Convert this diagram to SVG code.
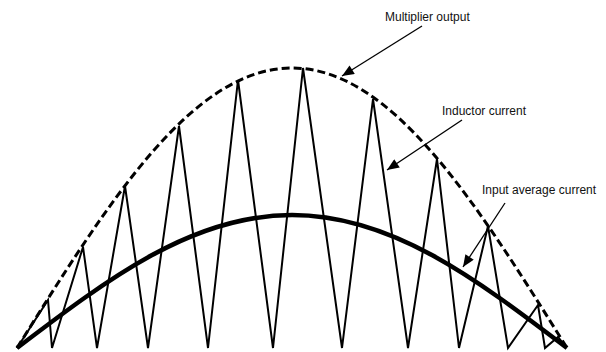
<svg xmlns="http://www.w3.org/2000/svg" width="606" height="352" viewBox="0 0 606 352">
<defs>
<style>
.lbl{font-family:"Liberation Sans",Arial,sans-serif;font-size:12px;fill:#111}
.wave{fill:none;stroke:#000;stroke-width:2;stroke-linejoin:miter}
.mult{fill:none;stroke:#000;stroke-width:3;stroke-dasharray:8,4}
.avg{fill:none;stroke:#000;stroke-width:4.5}
.ptr{fill:none;stroke:#000;stroke-width:1.3}
</style>
<marker id="ah" viewBox="0 0 12 10" refX="12" refY="5" markerWidth="13" markerHeight="10" markerUnits="userSpaceOnUse" orient="auto">
<path d="M0,0 L12,5 L0,10 Z" fill="#000"/>
</marker>
</defs>
<rect width="606" height="352" fill="#fff"/>
<g id="inductor-current">
<polyline class="wave" points="17,348 48,300 52,348 83,247 97,348 125,186 148,348 179,126 208,348 238,80 273,348 303,68 342,348 373,99 408,348 437,159 459,348 488,226 508,348 538,305 545,348 558,337 566,347"/>
</g>
<g id="multiplier-output">
<path class="mult" d="M17,348 C108.9,201 192.4,68 292,68 C391.6,68 475.1,201 567,348"/>
</g>
<g id="input-average-current">
<path class="avg" d="M17,348 C108.9,278.2 192.4,215 292,215 C391.6,215 475.1,278.2 567,348"/>
</g>
<g id="connectors">
<line class="ptr" x1="422" y1="26" x2="342" y2="76" marker-end="url(#ah)"/>
<line class="ptr" x1="462" y1="120" x2="387" y2="170" marker-end="url(#ah)"/>
<line class="ptr" x1="505" y1="203" x2="463" y2="267" marker-end="url(#ah)"/>
</g>
<g id="labels">
<text class="lbl" x="385" y="21">Multiplier output</text>
<text class="lbl" x="442" y="115">Inductor current</text>
<text class="lbl" x="482" y="194">Input average current</text>
</g>
</svg>
